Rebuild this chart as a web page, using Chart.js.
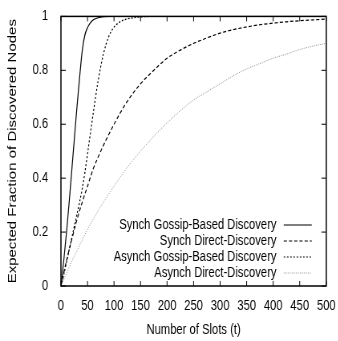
<!DOCTYPE html>
<html>
<head>
<meta charset="utf-8">
<script src="https://cdn.jsdelivr.net/npm/chart.js@4"></script>
<style>
  html, body { margin: 0; padding: 0; background: #fff; overflow: hidden; }
  #wrap { width: 422.5px; height: 341px; transform: scaleX(0.8); transform-origin: 0 0; }
</style>
</head>
<body>
<div id="wrap"><canvas id="c"></canvas></div>
<script>
// values
var fastSlots    = [0, 5, 10, 15, 20, 25, 30, 35, 40, 45, 50, 55, 60, 70, 80, 90, 100, 110, 120, 130, 140, 150, 175, 200, 300, 400, 500];
var synchGossip  = [0, 0.09, 0.19, 0.30, 0.42, 0.54, 0.66, 0.77, 0.87, 0.93, 0.958, 0.975, 0.986, 0.995, 0.999, 1, 1, 1, 1, 1, 1, 1, 1, 1, 1, 1, 1];
var asynchGossip = [0, 0.04, 0.085, 0.13, 0.175, 0.22, 0.265, 0.31, 0.36, 0.42, 0.49, 0.56, 0.63, 0.76, 0.86, 0.925, 0.96, 0.978, 0.988, 0.993, 0.996, 0.998, 1, 1, 1, 1, 1];

var slowSlots    = [0, 10, 20, 30, 40, 50, 60, 75, 100, 125, 150, 175, 200, 225, 250, 275, 300, 325, 350, 375, 400, 425, 450, 475, 500];
var synchDirect  = [0, 0.09, 0.17, 0.245, 0.31, 0.37, 0.43, 0.50, 0.60, 0.685, 0.75, 0.80, 0.845, 0.875, 0.90, 0.92, 0.938, 0.951, 0.961, 0.969, 0.975, 0.98, 0.984, 0.987, 0.99];
var asynchDirect = [0, 0.045, 0.09, 0.13, 0.17, 0.21, 0.245, 0.295, 0.37, 0.44, 0.50, 0.555, 0.605, 0.65, 0.69, 0.72, 0.75, 0.78, 0.805, 0.825, 0.845, 0.86, 0.877, 0.89, 0.90];

var xTicks = [0, 50, 100, 150, 200, 250, 300, 350, 400, 450, 500];
var yTicks = [0, 0.2, 0.4, 0.6, 0.8, 1];

function pts(xs, ys) {
    var out = [];
    for (let i = 0; i < xs.length; i++) out.push({ x: xs[i], y: ys[i] });
    return out;
}

var FONT = 'Liberation Sans, Arial, Helvetica, sans-serif';

// gnuplot style box, inward ticks and legend
var gnuFrame = {
    id: 'gnuFrame',
    afterDraw: function (chart) {
        var ctx = chart.ctx, a = chart.chartArea;
        var xs = chart.scales.x, ys = chart.scales.y;
        ctx.save();
        ctx.strokeStyle = '#000';
        ctx.lineWidth = 1.5;
        ctx.strokeRect(a.left, a.top, a.right - a.left, a.bottom - a.top);
        ctx.lineWidth = 1;
        ctx.beginPath();
        xTicks.forEach(function (v) {
            var px = xs.getPixelForValue(v);
            ctx.moveTo(px, a.bottom); ctx.lineTo(px, a.bottom - 5);
            ctx.moveTo(px, a.top); ctx.lineTo(px, a.top + 5);
        });
        yTicks.forEach(function (v) {
            var py = ys.getPixelForValue(v);
            ctx.moveTo(a.left, py); ctx.lineTo(a.left + 6, py);
            ctx.moveTo(a.right, py); ctx.lineTo(a.right - 6, py);
        });
        ctx.stroke();

        // legend, lower right inside the plot
        ctx.font = '14px ' + FONT;
        ctx.textAlign = 'right';
        ctx.textBaseline = 'middle';
        ctx.fillStyle = '#000';
        chart.data.datasets.forEach(function (ds, i) {
            var y = a.bottom - 61 + i * 16;
            ctx.fillText(ds.label, a.right - 62, y);
            ctx.strokeStyle = ds.borderColor;
            ctx.lineWidth = ds.borderWidth;
            ctx.setLineDash(ds.borderDash || []);
            ctx.beginPath();
            ctx.moveTo(a.right - 53, y);
            ctx.lineTo(a.right - 18, y);
            ctx.stroke();
            ctx.setLineDash([]);
        });
        ctx.restore();
    }
};

var canvas = document.getElementById('c');
var grafico = new Chart(canvas, {
    type: 'line',
    data: {
        datasets: [{
            label: 'Synch Gossip-Based Discovery',
            data: pts(fastSlots, synchGossip),
            borderColor: '#000',
            borderWidth: 1.2,
            borderDash: []
        }, {
            label: 'Synch Direct-Discovery',
            data: pts(slowSlots, synchDirect),
            borderColor: '#000',
            borderWidth: 1.2,
            borderDash: [4, 2.5]
        }, {
            label: 'Asynch Gossip-Based Discovery',
            data: pts(fastSlots, asynchGossip),
            borderColor: '#000',
            borderWidth: 1.2,
            borderDash: [2, 2]
        }, {
            label: 'Asynch Direct-Discovery',
            data: pts(slowSlots, asynchDirect),
            borderColor: '#888',
            borderWidth: 1,
            borderDash: [1, 1.5]
        }]
    },
    options: {
        responsive: true,
        maintainAspectRatio: false,
        animation: false,
        layout: { padding: { top: 10, right: 13, bottom: 0, left: 0 } },
        elements: {
            point: { radius: 0 },
            line: { cubicInterpolationMode: 'monotone', fill: false }
        },
        plugins: {
            legend: { display: false },
            tooltip: { enabled: false }
        },
        scales: {
            x: {
                type: 'linear',
                min: 0,
                max: 500,
                afterBuildTicks: function (s) { s.ticks = xTicks.map(function (v) { return { value: v }; }); },
                afterFit: function (s) { s.height = 55; },
                grid: { display: false },
                border: { display: false },
                ticks: { color: '#000', font: { family: FONT, size: 14 }, padding: 4, maxRotation: 0, autoSkip: false },
                title: { display: true, text: 'Number of Slots (t)', color: '#000', font: { family: FONT, size: 14 }, padding: { top: 0, bottom: 2 } }
            },
            y: {
                min: 0,
                max: 1,
                afterBuildTicks: function (s) { s.ticks = yTicks.map(function (v) { return { value: v }; }); },
                afterFit: function (s) { s.width = 76; },
                grid: { display: false },
                border: { display: false },
                ticks: {
                    color: '#000', font: { family: FONT, size: 14 }, padding: 8,
                    callback: function (v) { return String(Math.round(v * 10) / 10); }
                },
                title: { display: true, text: 'Expected Fraction of Discovered Nodes', color: '#000', font: { family: FONT, size: 15 }, padding: { top: 7, bottom: 0 } }
            }
        }
    },
    plugins: [gnuFrame]
});
</script>
</body>
</html>
